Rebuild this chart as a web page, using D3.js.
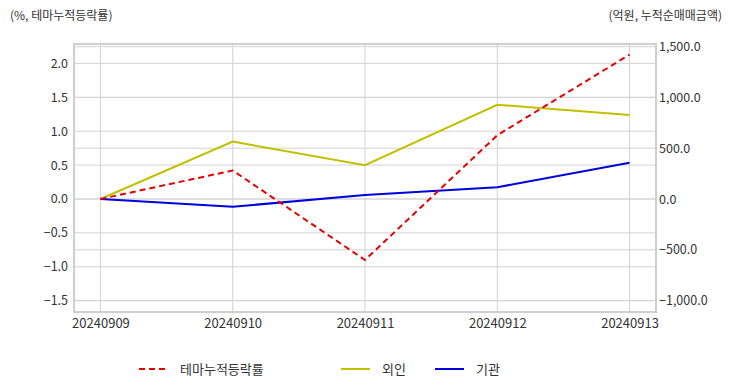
<!DOCTYPE html>
<html><head><meta charset="utf-8">
<script src="https://cdn.jsdelivr.net/npm/d3@7"></script>
<style>body{margin:0;background:#fff}text{font-family:"Noto Sans CJK KR","Noto Sans",sans-serif}</style>
</head><body><svg id="c" width="732" height="392"></svg>
<script>
const dates = ["20240909","20240910","20240911","20240912","20240913"];
const themeRate = [0.0, 0.42, -0.90, 0.94, 2.13];
const foreign = [0, 565, 333, 928, 828];
const institution = [0, -76, 39, 116, 358];
const leftTicks = [-1.5,-1.0,-0.5,0.0,0.5,1.0,1.5,2.0];
const rightTicks = [-1000,-500,0,500,1000,1500];
const leftTitle = "(%, 테마누적등락률)";
const rightTitle = "(억원, 누적순매매금액)";
const seriesNames = ["테마누적등락률","외인","기관"];

const svg = d3.select("#c");
const L=74, R=656, T=44, B=312;
const x = d3.scalePoint().domain(dates).range([L,R]).padding(0.2);
const yL = d3.scaleLinear().domain([-1.667,2.286]).range([B,T]);
const yR = d3.scaleLinear().domain([-1112,1526]).range([B,T]);
const grid = "#d3d3d3";

const g = svg.append("g");
leftTicks.forEach(t=>g.append("line").attr("x1",L).attr("x2",R).attr("y1",yL(t)).attr("y2",yL(t)).attr("stroke",grid).attr("stroke-width",1));
rightTicks.forEach(t=>g.append("line").attr("x1",L).attr("x2",R).attr("y1",yR(t)).attr("y2",yR(t)).attr("stroke",grid).attr("stroke-width",1));
dates.forEach(d=>g.append("line").attr("x1",x(d)).attr("x2",x(d)).attr("y1",T).attr("y2",B).attr("stroke",grid).attr("stroke-width",1));
g.append("rect").attr("x",L).attr("y",T).attr("width",R-L).attr("height",B-T).attr("fill","none").attr("stroke","#cfcfcf").attr("stroke-width",2);

const axL = svg.append("g").attr("transform",`translate(${L-2},0)`)
  .call(d3.axisLeft(yL).tickValues(leftTicks).tickFormat(d3.format(".1f")).tickSize(0).tickPadding(4));
const axR = svg.append("g").attr("transform",`translate(${R+2},0)`)
  .call(d3.axisRight(yR).tickValues(rightTicks).tickFormat(d3.format(",.1f")).tickSize(0).tickPadding(1));
const axB = svg.append("g").attr("transform",`translate(0,${B})`)
  .call(d3.axisBottom(x).tickSize(0).tickPadding(7));
[axL,axR].forEach(a=>{a.select(".domain").remove();a.selectAll("text").attr("fill","#333").style("font-size","12.5px");});
axB.select(".domain").remove();
axB.selectAll("text").attr("fill","#333").style("font-size","13px");

svg.append("text").attr("x",10).attr("y",20).attr("fill","#333").style("font-size","12px").text(leftTitle);
svg.append("text").attr("x",722).attr("y",20).attr("text-anchor","end").attr("fill","#333").style("font-size","12px").text(rightTitle);

const lineL = d3.line().x((d,i)=>x(dates[i])).y(d=>yL(d));
const lineR = d3.line().x((d,i)=>x(dates[i])).y(d=>yR(d));
svg.append("path").datum(foreign).attr("d",lineR).attr("fill","none").attr("stroke","#c0c000").attr("stroke-width",2);
svg.append("path").datum(institution).attr("d",lineR).attr("fill","none").attr("stroke","#0000dd").attr("stroke-width",2);
svg.append("path").datum(themeRate).attr("d",lineL).attr("fill","none").attr("stroke","#e60000").attr("stroke-width",2).attr("stroke-dasharray","6,4");

const legend = [
  {name:seriesNames[0], color:"#e60000", dash:"6,4", x:139},
  {name:seriesNames[1], color:"#c0c000", dash:null, x:341},
  {name:seriesNames[2], color:"#0000dd", dash:null, x:435}
];
legend.forEach(l=>{
  svg.append("line").attr("x1",l.x).attr("x2",l.x+29).attr("y1",369).attr("y2",369).attr("stroke",l.color).attr("stroke-width",2).attr("stroke-dasharray",l.dash);
  svg.append("text").attr("x",l.x+41).attr("y",374).attr("fill","#333").style("font-size","13px").text(l.name);
});
</script></body></html>
